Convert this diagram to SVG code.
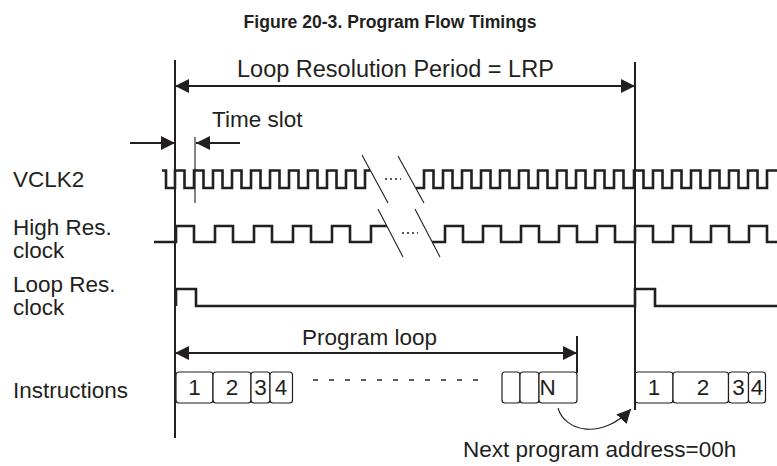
<svg xmlns="http://www.w3.org/2000/svg" width="777" height="466" viewBox="0 0 777 466">
<style>
text{font-family:"Liberation Sans",Arial,sans-serif;fill:#231f20;font-size:22.5px}
.title{font-weight:bold;font-size:17.6px}
.wave{fill:none;stroke:#231f20;stroke-width:2.6;stroke-linejoin:miter}
.vline{stroke:#231f20;stroke-width:2;fill:none}
.arr{stroke:#231f20;stroke-width:2;fill:none}
.thin{stroke:#231f20;stroke-width:1.1;fill:none}
.box{fill:#fff;stroke:#231f20;stroke-width:1.2}
.dots{stroke:#231f20;stroke-width:1.4;stroke-dasharray:2 3}
</style>
<defs>
<marker id="ah" markerUnits="userSpaceOnUse" markerWidth="14" markerHeight="14" refX="14" refY="7" orient="auto-start-reverse" viewBox="0 0 14 14">
<path d="M0,0 L14,7 L0,14 z" fill="#231f20"/>
</marker>
</defs>
<rect width="777" height="466" fill="#fff"/>
<text class="title" x="390" y="28" text-anchor="middle">Figure 20-3. Program Flow Timings</text>

<g id="labels">
<text x="13" y="187">VCLK2</text>
<text x="13" y="235">High Res.</text>
<text x="13" y="258">clock</text>
<text x="13" y="292">Loop Res.</text>
<text x="13" y="315">clock</text>
<text x="13" y="398">Instructions</text>
</g>

<g id="vclk2">
<path class="wave" d="M162,170.5 H166 V188 H175 V170.5 H184.5 V188 H194 V170.5 H203.5 V188 H213 V170.5 H222.5 V188 H232 V170.5 H241.5 V188 H251 V170.5 H260.5 V188 H270 V170.5 H279.5 V188 H289 V170.5 H298.5 V188 H308 V170.5 H317.5 V188 H327 V170.5 H336.5 V188 H346 V170.5 H355.5 V188 H365 V170.5 H370"/>
<path class="wave" d="M416,188 H424 V170.5 H433.5 V188 H443 V170.5 H452.5 V188 H462 V170.5 H471.5 V188 H481 V170.5 H490.5 V188 H500 V170.5 H509.5 V188 H519 V170.5 H528.5 V188 H538 V170.5 H547.5 V188 H557 V170.5 H566.5 V188 H576 V170.5 H585.5 V188 H595 V170.5 H604.5 V188 H614 V170.5 H623.5 V188 H634 V170.5 H643.5 V188 H653 V170.5 H662.5 V188 H672 V170.5 H681.5 V188 H691 V170.5 H700.5 V188 H710 V170.5 H719.5 V188 H729 V170.5 H738.5 V188 H748 V170.5 H757.5 V188 H767 V170.5 H777"/>
<line class="thin" x1="362" y1="155" x2="388" y2="203"/>
<line class="thin" x1="398" y1="156" x2="424" y2="203"/>
<line class="dots" x1="385" y1="179" x2="401" y2="179"/>
</g>

<g id="highres">
<path class="wave" d="M154,242 H176 V226 H194 V242 H215 V226 H233 V242 H254 V226 H272 V242 H293 V226 H311 V242 H332 V226 H350 V242 H371 V226 H387"/>
<path class="wave" d="M432,242 H445 V226 H463 V242 H483 V226 H501 V242 H521 V226 H539 V242 H559 V226 H577 V242 H597 V226 H615 V242 H635 V226 H653 V242 H673 V226 H691 V242 H711 V226 H729 V242 H749 V226 H767 V242 H777"/>
<line class="thin" x1="378" y1="209" x2="403" y2="257"/>
<line class="thin" x1="415" y1="209" x2="440" y2="257"/>
<line class="dots" x1="402" y1="233" x2="418" y2="233"/>
</g>

<g id="loopres">
<path class="wave" d="M176,306 V289 H196 V306 H635 V289 H655 V306 H777"/>
</g>

<g id="instructions-left">
<rect class="box" x="176" y="372" width="37" height="31" rx="3"/>
<rect class="box" x="213" y="372" width="38" height="31" rx="3"/>
<rect class="box" x="251" y="372" width="19" height="31" rx="3"/>
<rect class="box" x="270" y="372" width="22.5" height="31" rx="3"/>
<text x="194.5" y="395" text-anchor="middle">1</text>
<text x="232" y="395" text-anchor="middle">2</text>
<text x="260.5" y="395" text-anchor="middle">3</text>
<text x="281" y="395" text-anchor="middle">4</text>
</g>

<line id="ellipsis" stroke="#231f20" stroke-width="1.3" stroke-dasharray="5 11" x1="313" y1="380" x2="478" y2="380"/>

<g id="instructions-end">
<rect class="box" x="502" y="372" width="18" height="31" rx="3"/>
<rect class="box" x="520" y="372" width="19" height="31" rx="3"/>
<rect class="box" x="539" y="372" width="38" height="31" rx="3"/>
<text x="539.5" y="395">N</text>
</g>

<g id="instructions-right">
<rect class="box" x="635" y="372" width="38" height="31" rx="3"/>
<rect class="box" x="673" y="372" width="55.5" height="31" rx="3"/>
<rect class="box" x="728.5" y="372" width="20" height="31" rx="3"/>
<rect class="box" x="748.5" y="372" width="17" height="31" rx="3"/>
<text x="654" y="395" text-anchor="middle">1</text>
<text x="703" y="395" text-anchor="middle">2</text>
<text x="738.5" y="395" text-anchor="middle">3</text>
<text x="757" y="395" text-anchor="middle">4</text>
</g>

<g id="connectors">
<line class="vline" x1="175" y1="60" x2="175" y2="438"/>
<line class="vline" x1="635" y1="62" x2="635" y2="410"/>
<line class="arr" x1="175" y1="86" x2="635" y2="86" marker-start="url(#ah)" marker-end="url(#ah)"/>
<line class="arr" x1="130" y1="143" x2="175" y2="143" marker-end="url(#ah)"/>
<line class="arr" x1="240" y1="143" x2="196" y2="143" marker-end="url(#ah)"/>
<line class="thin" x1="195" y1="137" x2="195" y2="203"/>
<line class="arr" x1="175" y1="353" x2="577" y2="353" marker-start="url(#ah)" marker-end="url(#ah)"/>
<line class="vline" x1="577" y1="336" x2="577" y2="373"/>
<path class="thin" d="M558,408 C565,432 602,440 631,409" marker-end="url(#ah)"/>
</g>

<g id="annotations">
<text x="237" y="77" style="font-size:23.5px">Loop Resolution Period = LRP</text>
<text x="212" y="127">Time slot</text>
<text x="302" y="345">Program loop</text>
<text x="463" y="457">Next program address=00h</text>
</g>
</svg>
